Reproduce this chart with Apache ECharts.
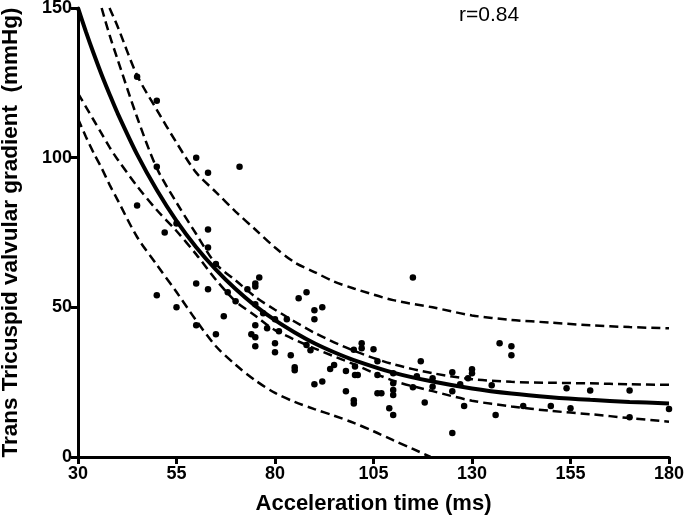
<!DOCTYPE html>
<html>
<head>
<meta charset="utf-8">
<script src="https://cdn.jsdelivr.net/npm/echarts@6/dist/echarts.min.js"></script>
<style>
html,body{margin:0;padding:0;background:#fff;}
#chart{width:685px;height:522px;}
</style>
</head>
<body>
<div id="chart"></div>
<script>
// Scatter observations: [acceleration time (ms), gradient (mmHg)]
const pointsX = [45,50,60,71,50,63,45,55,63,52,63,65,76,75,75,73,60,63,68,70,75,50,55,67,77,75,60,65,74,75,75,80,83,86,88,90,92,90,78,81,80,80,84,85,85,88,89,90,92,94,95,98,100,98,100,100,102,102,105,100.3,100.3,101,106,106,106,107,110,110,110,110,109,110,115,117,115,118,116,120,120,125,125,127,128,130,130,129,125,137,140,140,135,136,143,150,154,155,160,170,170,180];
const pointsY = [127,119,100,97,97,95,84,78,76,75,70,64.5,60,58,57,56,58,56,55,52,51,54,50,47,48,44,44,41,41,40,37,46,46,53,55,49,50,46,43,42,38,35,34,30,29,37.4,35.7,24.3,25.2,29.4,30.7,28.7,35.8,22,19,17.9,38,36.3,36,30.2,27.4,27.4,32,27.4,21.3,21.3,28,24.6,22.4,20.7,16.3,14,60,32,23.3,18.2,27,26.3,23.5,28.3,22,24.3,17,29.3,28,26.3,8,38,37,34,24,14,17,17,23,16.3,22.2,22.2,13.3,16];

// Fitted curve
const fitX = [30,32,34,36,38,40,45,50,55,60,65,70,75,80,85,90,95,100,110,120,130,140,150,160,170,180];
const fitY = [150,142.1,134.7,127.7,121.2,115.0,101.1,89.2,78.9,70.1,62.6,56.1,50.5,45.7,41.6,38.0,35.0,32.4,28.2,25.2,22.9,21.2,20.0,19.1,18.4,17.9];

// Upper confidence band
const upConfX = [36,38,40,45,50,55,60,65,70,75,80,90,100,110,120,130,140,150,160,170,180];
const upConfY = [150,141,133,113.5,96.5,85,74.5,64.5,59,53.5,49.2,41.5,35.5,31,28,26,25.1,24.8,24.6,24.3,24.1];

// Lower confidence band
const loConfX = [30,32,34,36,38,40,45,50,55,60,65,70,75,80,90,100,110,120,130,140,150,160,170,180];
const loConfY = [121.5,117,112.5,108,103.5,99.5,90.5,82.5,75.5,67.7,59.2,52,47.2,42.4,36.3,31,25.5,22,18.8,16.9,15.4,14.3,13,11.8];

// Upper prediction band
const upPredX = [38,40,45,50,55,60,65,70,75,80,85,90,95,100,110,120,130,140,150,160,170,180];
const upPredY = [150,144,127.5,116,105,95,88.5,82,76,70,65,61.8,58.6,56.3,52.4,50,47.3,45.8,44.9,44,43.4,43];

// Lower prediction band
const loPredX = [30,32,34,36,38,40,45,50,55,60,65,70,75,80,85,90,95,100,105,110,115,119.5];
const loPredY = [113,107,101.5,96.5,91,86,73.5,64.2,55.1,45.6,37,30.8,25.6,21.4,18.4,16,13.8,11.4,8.6,5.6,2.7,0];

// Axis ticks
const xTicks = [30,55,80,105,130,155,180];
const yTicks = [0,50,100,150];

const zip = (xs, ys) => xs.map((x, i) => [x, ys[i]]);

const FONT = "'Liberation Sans', Arial, Helvetica, sans-serif";
const chart = echarts.init(document.getElementById('chart'), null, {renderer: 'canvas'});

const dashed = (name, xs, ys) => ({
  name, type: 'line', data: zip(xs, ys), smooth: 0.3, symbol: 'none', clip: true,
  lineStyle: {color: '#000', width: 2.5, type: [9, 5]}, z: 3, silent: true
});

chart.setOption({
  animation: false,
  backgroundColor: '#fff',
  grid: {left: 78, right: 16, top: 8, bottom: 65, containLabel: false, outerBoundsMode: 'none'},
  xAxis: {
    type: 'value', min: xTicks[0], max: xTicks[xTicks.length - 1], interval: 25,
    name: 'Acceleration time (ms)', nameLocation: 'middle', nameGap: 36,
    nameTextStyle: {fontFamily: FONT, fontWeight: 'bold', fontSize: 22, color: '#000'},
    axisLine: {show: true, onZero: false, lineStyle: {color: '#000', width: 3}},
    axisTick: {show: true, length: 7, lineStyle: {color: '#000', width: 3}},
    axisLabel: {fontFamily: FONT, fontWeight: 'bold', fontSize: 18, color: '#000', margin: 8},
    splitLine: {show: false}
  },
  yAxis: {
    type: 'value', min: yTicks[0], max: yTicks[yTicks.length - 1], interval: 50,
    name: 'Trans Tricuspid valvular gradient  (mmHg)', nameLocation: 'middle', nameGap: 56, nameRotate: 90,
    nameTextStyle: {fontFamily: FONT, fontWeight: 'bold', fontSize: 22.5, color: '#000'},
    axisLine: {show: true, onZero: false, lineStyle: {color: '#000', width: 3}},
    axisTick: {show: true, length: 7, lineStyle: {color: '#000', width: 3}},
    axisLabel: {fontFamily: FONT, fontWeight: 'bold', fontSize: 18, color: '#000', margin: 6},
    splitLine: {show: false}
  },
  graphic: [{
    type: 'text', left: 459, top: 5,
    style: {text: 'r=0.84', fontFamily: FONT, fontSize: 21, fill: '#000'}
  }],
  series: [
    {
      name: 'data', type: 'scatter', data: zip(pointsX, pointsY),
      symbol: 'circle', symbolSize: 6.5, itemStyle: {color: '#000', opacity: 1}, z: 4, silent: true
    },
    {
      name: 'fit', type: 'line', data: zip(fitX, fitY), smooth: 0.3, symbol: 'none', clip: true,
      lineStyle: {color: '#000', width: 4}, z: 3, silent: true
    },
    dashed('upperConf', upConfX, upConfY),
    dashed('lowerConf', loConfX, loConfY),
    dashed('upperPred', upPredX, upPredY),
    dashed('lowerPred', loPredX, loPredY)
  ]
});
</script>
</body>
</html>
